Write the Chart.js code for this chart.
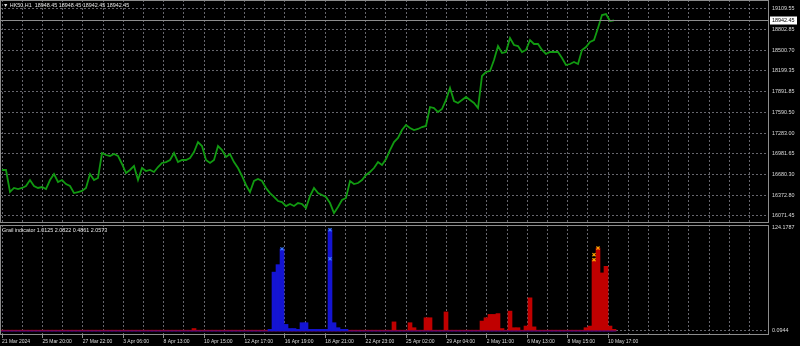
<!DOCTYPE html>
<html>
<head>
<meta charset="utf-8">
<script src="https://cdn.jsdelivr.net/npm/chart.js@4.4.1/dist/chart.umd.min.js"></script>
<style>
  html, body { margin: 0; padding: 0; background: #000; }
  #wrap { position: relative; width: 800px; height: 346px; background: #000; overflow: hidden; }
  #priceCanvas { position: absolute; left: 0; top: 0; }
  #indCanvas { position: absolute; left: 0; top: 224px; }
  .title { position: absolute; color: #e4e4e4; font: 5.4px "Liberation Sans", Arial, sans-serif; white-space: pre; }
</style>
</head>
<body>
<div id="wrap">
  <canvas id="priceCanvas" width="800" height="224"></canvas>
  <canvas id="indCanvas" width="800" height="122"></canvas>
  <div class="title" id="priceTitle" style="left:3px; top:2px;"></div>
  <div class="title" id="indTitle" style="left:2px; top:227px;"></div>
</div>
<script>
// 차트 데이터 (H1 봉, 4px 간격으로 샘플링)
const symbol = 'HK50,H1';
const headerPrices = [18948.45, 18948.45, 18942.45, 18942.45];
const lastPrice = 18942.45;

const closes = [
  16746, 16746, 16423, 16482, 16467, 16482, 16511, 16599, 16511, 16482,
  16496, 16467, 16599, 16687, 16570, 16599, 16540, 16511, 16408, 16423,
  16438, 16482, 16687, 16599, 16629, 16995, 16966, 16952, 16981, 16952,
  16834, 16702, 16746, 16805, 16599, 16775, 16731, 16746, 16717, 16790,
  16849, 16863, 16893, 16995, 16863, 16893, 16893, 16922, 17010, 17157,
  17098, 16893, 16849, 16893, 17098, 17039, 16937, 16981, 16863, 16775,
  16658, 16526, 16423, 16585, 16614, 16585, 16482, 16408, 16350, 16291,
  16276, 16217, 16247, 16217, 16261, 16247, 16188, 16364, 16482, 16408,
  16379, 16350, 16261, 16115, 16203, 16306, 16335, 16585, 16540, 16555,
  16599, 16673, 16717, 16775, 16863, 16819, 16907, 17039, 17157, 17216,
  17333, 17407, 17363, 17333, 17348, 17377, 17392, 17671, 17656, 17597,
  17641, 17774, 17950, 17759, 17730, 17774, 17818, 17774, 17730, 17656,
  18126, 18185, 18199, 18361, 18566, 18464, 18478, 18684, 18581, 18566,
  18478, 18508, 18654, 18596, 18596, 18508, 18449, 18478, 18478, 18478,
  18390, 18287, 18302, 18331, 18302, 18508, 18552, 18625, 18654, 18831,
  19021, 19036, 18933, 18942.45
];

const priceTicks = [19109.55, 18802.85, 18500.70, 18199.35, 17891.85, 17590.50,
  17283.00, 16981.65, 16680.30, 16372.80, 16071.45];

const timeLabels = ['21 Mar 2024', '25 Mar 20:00', '27 Mar 22:00', '3 Apr 06:00',
  '8 Apr 13:00', '10 Apr 15:00', '12 Apr 17:00', '16 Apr 19:00', '18 Apr 21:00',
  '22 Apr 23:00', '25 Apr 02:00', '29 Apr 04:00', '2 May 11:00', '6 May 13:00',
  '8 May 15:00', '10 May 17:00'];

// Grail indicator 히스토그램
const indName = 'Grail indicator';
const indValues = ['1.0125', '2.0822', '0.4861', '2.0573'];
const indTicks = [124.1787, 0.0944];

const redHist = [
  1, 1, 1, 1, 1, 1, 1, 1, 1, 1,
  1, 1, 1, 1, 1, 1, 1, 1, 1, 1,
  1, 1, 1, 1, 1, 1, 1, 1, 1, 1,
  1, 1, 1, 1, 1, 1, 1, 1, 1, 1,
  1, 1, 1, 1, 1, 1, 1, 1, 3, 1,
  1, 1, 1, 1, 1, 1, 1, 1, 1, 1,
  1, 1, 1, 1, 1, 1, 1, 1, 1, 1,
  1, 1, 1, 1, 1, 1, 1, 1, 1, 1,
  1, 1, 1, 1, 1, 1, 1, 1, 1, 1,
  1, 1, 1, 1, 1, 1, 1, 1, 11, 1,
  1, 1, 10, 4, 1, 1, 16, 16, 1, 1,
  1, 23, 1, 1, 1, 1, 1, 1, 1, 1,
  12, 16, 20, 20, 21, 3, 1, 24, 4, 4,
  1, 6, 40, 5, 1, 1, 1, 1, 1, 1,
  1, 1, 1, 1, 1, 1, 4, 6, 86, 100,
  70, 78, 6, 2
];

const blueHist = [
  0, 0, 0, 0, 0, 0, 0, 0, 0, 0,
  0, 0, 0, 0, 0, 0, 0, 0, 0, 0,
  0, 0, 0, 0, 0, 0, 0, 0, 0, 0,
  0, 0, 0, 0, 0, 0, 0, 0, 0, 0,
  0, 0, 0, 0, 0, 0, 0, 0, 0, 0,
  0, 0, 0, 0, 0, 0, 0, 0, 0, 0,
  0, 0, 0, 0, 0, 0, 0, 2, 71, 80,
  99, 8, 3, 3, 2, 10, 10, 2, 2, 2,
  2, 2, 122, 10, 4, 2, 2, 0, 0, 0,
  0, 0, 0, 0, 0, 0, 0, 0, 0, 0,
  0, 0, 0, 0, 0, 0, 0, 0, 0, 0,
  0, 0, 0, 0, 0, 0, 0, 0, 0, 0,
  0, 0, 0, 0, 0, 0, 0, 0, 0, 0,
  0, 0, 0, 0, 0, 0, 0, 0, 0, 0,
  0, 0, 0, 0, 0, 0, 0, 0, 0, 0,
  0, 0, 0, 0
];

const blueMarkSlots = [70, 82, 82];
const blueMarkValues = [99, 122, 87];
const orangeMarkSlots = [148, 148, 149];
const orangeMarkValues = [86, 92, 100];

// 스타일
const FONT = '"Liberation Sans", Arial, sans-serif';
const TEXT = '#dcdcdc';
const GRID = 'rgba(120,120,128,0.85)';
const FRAME = '#8c8c8c';
const SLOT_MAX = 191.75;          // 4px per slot over a 769px plot
const LABEL_STEP = 10.1;          // time labels every ~40px

Chart.defaults.font.family = FONT;
Chart.defaults.animation = false;

document.getElementById('priceTitle').textContent = '\u25BC ' + symbol + '  ' + headerPrices.map(v => v.toFixed(2)).join(' ');
document.getElementById('indTitle').textContent = indName + ' ' + indValues.join(' ');

const gridSlots = [];
for (let k = 0; k * LABEL_STEP / 2 < SLOT_MAX; k++) gridSlots.push(k * LABEL_STEP / 2);

// 축 여백 제거 (플롯 영역을 픽셀 단위로 맞춤)
function noPadding(s) {
  s.paddingLeft = 0; s.paddingRight = 0; s.paddingTop = 0; s.paddingBottom = 0;
}

function xScale(withLabels) {
  return {
    type: 'linear',
    offset: false,
    min: -0.5,
    max: SLOT_MAX,
    afterBuildTicks: s => { s.ticks = gridSlots.map(v => ({ value: v })); },
    afterFit: s => { s.height = withLabels ? 11 : 1; noPadding(s); },
    ticks: {
      display: withLabels,
      autoSkip: false,
      maxRotation: 0,
      align: 'start',
      padding: 1,
      color: TEXT,
      font: { size: 5 },
      callback: (v, i) => (i % 2 === 0 && timeLabels[i / 2]) ? timeLabels[i / 2] : ''
    },
    grid: {
      offset: false,
      color: GRID,
      lineWidth: 1,
      drawTicks: withLabels,
      tickLength: 3,
      tickBorderDash: [],
      tickColor: ctx => (ctx.index % 2 === 0 && timeLabels[ctx.index / 2]) ? FRAME : 'transparent'
    },
    border: { display: false, dash: [2, 2] }
  };
}

// 차트 외곽선
const framePlugin = {
  id: 'frame',
  afterDraw(chart) {
    const { ctx, chartArea: a } = chart;
    ctx.save();
    ctx.strokeStyle = FRAME;
    ctx.lineWidth = 1;
    ctx.strokeRect(Math.round(a.left) + 0.5, Math.round(a.top) + 0.5,
      Math.round(a.right - a.left) - 1, Math.round(a.bottom - a.top) - 1);
    ctx.restore();
  }
};

// 현재가 라인 + 라벨
const lastPricePlugin = {
  id: 'lastPrice',
  afterDraw(chart) {
    const { ctx, chartArea: a, scales: { y } } = chart;
    const py = Math.round(y.getPixelForValue(lastPrice)) + 0.5;
    ctx.save();
    ctx.strokeStyle = FRAME;
    ctx.lineWidth = 1;
    ctx.beginPath();
    ctx.moveTo(a.left, py);
    ctx.lineTo(a.right, py);
    ctx.stroke();
    ctx.fillStyle = '#ffffff';
    ctx.fillRect(a.right + 1, py - 4, 27, 8);
    ctx.fillStyle = '#000000';
    ctx.font = '5.4px ' + FONT;
    ctx.textBaseline = 'middle';
    ctx.fillText(lastPrice.toFixed(2), a.right + 3, py);
    ctx.restore();
  }
};

new Chart(document.getElementById('priceCanvas'), {
  type: 'line',
  data: {
    datasets: [{
      data: closes.map((v, i) => ({ x: i, y: v })),
      borderColor: '#119a11',
      borderWidth: 1.8,
      pointRadius: 0,
      tension: 0
    }]
  },
  options: {
    responsive: false,
    devicePixelRatio: 1,
    layout: { padding: 0, autoPadding: false },
    plugins: { legend: { display: false }, tooltip: { enabled: false } },
    scales: {
      x: xScale(false),
      y: {
        position: 'right',
        min: 15968.0,
        max: 19241.6,
        afterBuildTicks: s => { s.ticks = priceTicks.map(v => ({ value: v })); },
        afterFit: s => { s.width = 31; noPadding(s); },
        ticks: { color: TEXT, font: { size: 5.4 }, padding: 3, callback: v => v.toFixed(2) },
        grid: { color: GRID, drawTicks: false },
        border: { display: false, dash: [2, 2] }
      }
    }
  },
  plugins: [framePlugin, lastPricePlugin]
});

new Chart(document.getElementById('indCanvas'), {
  type: 'bar',
  data: {
    datasets: [
      {
        type: 'scatter',
        data: blueMarkSlots.map((s, i) => ({ x: s, y: blueMarkValues[i] })),
        pointStyle: 'crossRot', pointRadius: 2.2, borderWidth: 1.2,
        borderColor: '#3d7dff', order: 0
      },
      {
        type: 'scatter',
        data: orangeMarkSlots.map((s, i) => ({ x: s, y: orangeMarkValues[i] })),
        pointStyle: 'crossRot', pointRadius: 2.2, borderWidth: 1.2,
        borderColor: '#ffa500', order: 0
      },
      {
        data: blueHist.map((v, i) => ({ x: i, y: v })),
        backgroundColor: '#1414d2', borderWidth: 0, order: 1,
        grouped: false, barPercentage: 1, categoryPercentage: 1
      },
      {
        data: redHist.map((v, i) => ({ x: i, y: v })),
        backgroundColor: '#c00000', borderWidth: 0, order: 2,
        grouped: false, barPercentage: 1, categoryPercentage: 1
      }
    ]
  },
  options: {
    responsive: false,
    devicePixelRatio: 1,
    layout: { padding: { top: 1 }, autoPadding: false },
    plugins: { legend: { display: false }, tooltip: { enabled: false } },
    scales: {
      x: xScale(true),
      y: {
        position: 'right',
        min: -4.8,
        max: 127.8,
        afterBuildTicks: s => { s.ticks = indTicks.map(v => ({ value: v })); },
        afterFit: s => { s.width = 31; noPadding(s); },
        ticks: { color: TEXT, font: { size: 5.4 }, padding: 3, callback: v => v.toFixed(4) },
        grid: { color: ctx => ctx.tick && ctx.tick.value < 1 ? GRID : 'transparent', drawTicks: false },
        border: { display: false, dash: [2, 2] }
      }
    }
  },
  plugins: [framePlugin]
});
</script>
</body>
</html>
